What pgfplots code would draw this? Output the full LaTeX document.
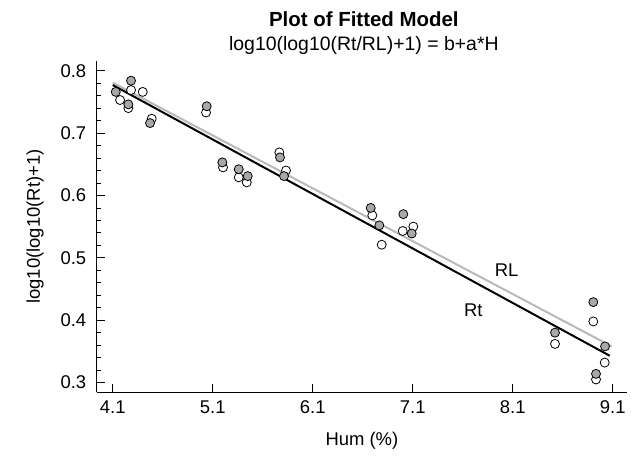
\documentclass[border=0pt]{standalone}
\usepackage{fontspec}
\setmainfont{Liberation Sans}
\usepackage{pgfplots}
\pgfplotsset{compat=1.18}
\definecolor{ptgray}{RGB}{168,168,168}
\definecolor{lngray}{RGB}{185,185,185}
\begin{document}
\begin{tikzpicture}
\begin{axis}[
  scale only axis,
  width=530bp, height=331bp,
  xmin=3.94, xmax=9.243,
  ymin=0.2846, ymax=0.8155,
  axis x line=bottom, axis y line=left,
  axis line style={-, line width=0.8pt},
  xtick={4.1,5.1,6.1,7.1,8.1,9.1},
  xticklabels={4.1,5.1,6.1,7.1,8.1,9.1},
  ytick={0.3,0.4,0.5,0.6,0.7,0.8},
  yticklabels={0.3,0.4,0.5,0.6,0.7,0.8},
  minor y tick num=4,
  tick align=inside,
  tick style={black, line width=0.8pt},
  major tick length=8bp,
  minor tick length=4.5bp,
  tick label style={font=\fontsize{18.5}{22}\selectfont},
  xticklabel style={yshift=-5bp},
  yticklabel style={xshift=-7bp},
  label style={font=\fontsize{18.5}{22}\selectfont},
  xlabel={Hum (\%)},
  ylabel={log10(log10(Rt)+1)},
  xlabel shift=12bp,
  ylabel shift=10bp,
  clip=false,
]
\coordinate (SW) at (rel axis cs:0,0);
\coordinate (NE) at (rel axis cs:1,1);
\addplot[lngray, line width=2pt] coordinates {(4.1,0.781) (9.09,0.358)};
\addplot[black, line width=2pt] coordinates {(4.1,0.777) (9.07,0.343)};
\addplot[only marks, mark=*, mark size=4.5bp, mark options={fill=white, draw=black, line width=0.8pt}] table {
x y
4.173 0.753
4.256 0.740
4.283 0.769
4.40 0.766
4.49 0.723
5.033 0.733
5.203 0.645
5.36 0.629
5.44 0.621
5.766 0.669
5.833 0.640
6.696 0.568
6.79 0.521
7.0 0.543
7.106 0.550
8.523 0.362
8.906 0.398
9.02 0.332
8.933 0.305
};
\addplot[only marks, mark=*, mark size=4.5bp, mark options={fill=ptgray, draw=black, line width=0.8pt}] table {
x y
4.13 0.766
4.256 0.746
4.283 0.784
4.473 0.716
5.04 0.743
5.196 0.653
5.36 0.642
5.45 0.631
5.773 0.661
5.813 0.631
6.68 0.580
6.766 0.552
7.006 0.570
7.09 0.539
8.523 0.380
8.906 0.429
9.023 0.358
8.933 0.314
};
\node[font=\fontsize{18.5}{22}\selectfont] at (axis cs:8.04,0.4806) {RL};
\node[font=\fontsize{18.5}{22}\selectfont] at (axis cs:7.706,0.4165) {Rt};
\node[font=\fontsize{20.5}{24}\selectfont\bfseries, anchor=base] at ([xshift=2bp,yshift=35bp]rel axis cs:0.5,1) {Plot of Fitted Model};
\node[font=\fontsize{19.5}{23}\selectfont, anchor=base] at ([xshift=2bp,yshift=11bp]rel axis cs:0.5,1) {log10(log10(Rt/RL)+1) = b+a*H};
\end{axis}
\pgfresetboundingbox
\path[use as bounding box] ([xshift=-96.7bp,yshift=-63.7bp]SW) rectangle ([xshift=8bp,yshift=61bp]NE);
\end{tikzpicture}
\end{document}
